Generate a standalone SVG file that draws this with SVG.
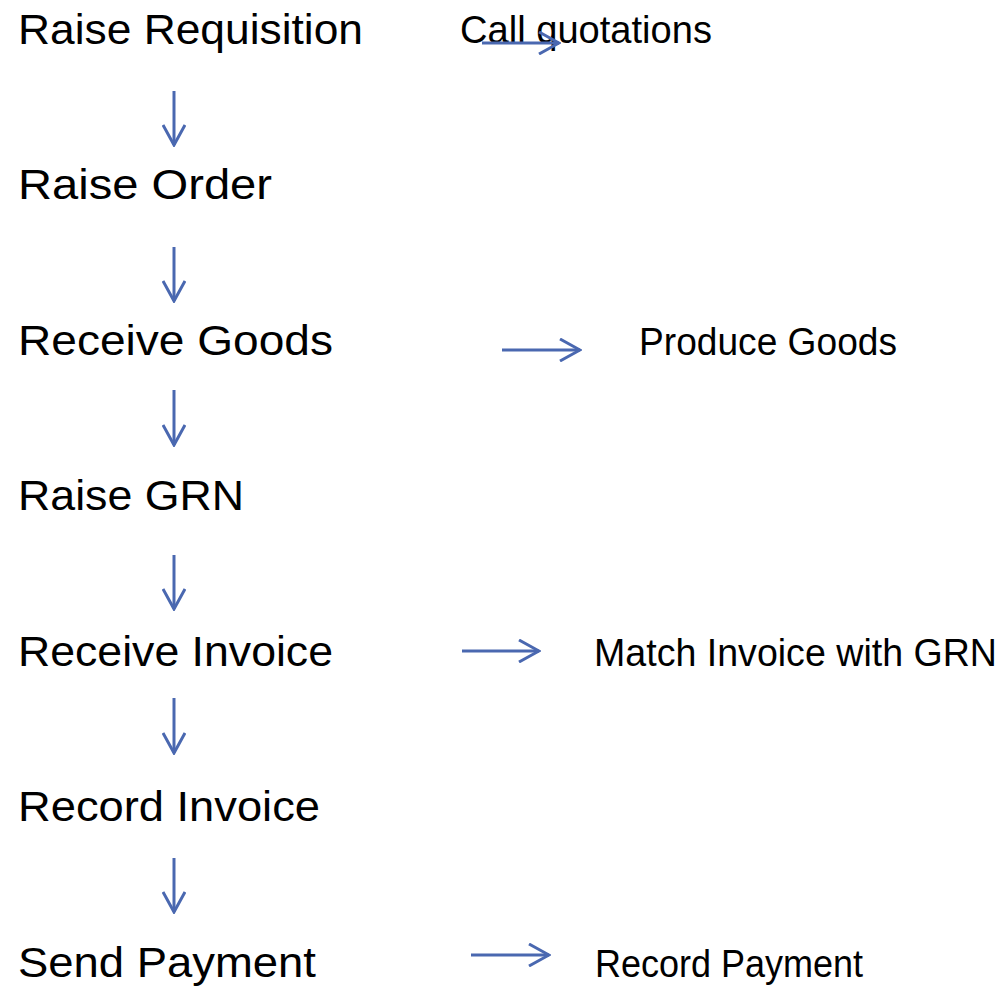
<svg xmlns="http://www.w3.org/2000/svg" width="1007" height="989" viewBox="0 0 1007 989">
<style>
.main{font-family:"Liberation Sans",Arial,sans-serif;font-size:42px;fill:#000}
.side{font-family:"Liberation Sans",Arial,sans-serif;font-size:38px;fill:#000}
.arr{stroke:#4A68B0;stroke-width:3;fill:none}
</style>
<defs>
<marker id="ah" viewBox="0 0 24 24" refX="22" refY="12" markerWidth="24" markerHeight="24" markerUnits="userSpaceOnUse" orient="auto">
<path d="M2,1 L22,12 L2,23" fill="none" stroke="#4A68B0" stroke-width="3"/>
</marker>
</defs>
<rect width="1007" height="989" fill="#fff"/>
<g id="raise-requisition"><text class="main" x="18" y="44" textLength="345" lengthAdjust="spacingAndGlyphs">Raise Requisition</text></g>
<g id="raise-order"><text class="main" x="18" y="199" textLength="254" lengthAdjust="spacingAndGlyphs">Raise Order</text></g>
<g id="receive-goods"><text class="main" x="18" y="355" textLength="315" lengthAdjust="spacingAndGlyphs">Receive Goods</text></g>
<g id="raise-grn"><text class="main" x="18" y="510" textLength="226" lengthAdjust="spacingAndGlyphs">Raise GRN</text></g>
<g id="receive-invoice"><text class="main" x="18" y="666" textLength="315" lengthAdjust="spacingAndGlyphs">Receive Invoice</text></g>
<g id="record-invoice"><text class="main" x="18" y="821" textLength="302" lengthAdjust="spacingAndGlyphs">Record Invoice</text></g>
<g id="send-payment"><text class="main" x="18" y="977" textLength="298" lengthAdjust="spacingAndGlyphs">Send Payment</text></g>
<g id="call-quotations"><text class="side" x="460" y="43" textLength="252" lengthAdjust="spacingAndGlyphs">Call quotations</text></g>
<g id="produce-goods"><text class="side" x="639" y="355" textLength="258" lengthAdjust="spacingAndGlyphs">Produce Goods</text></g>
<g id="match-invoice"><text class="side" x="594" y="666" textLength="403" lengthAdjust="spacingAndGlyphs">Match Invoice with GRN</text></g>
<g id="record-payment"><text class="side" x="595" y="977" textLength="268" lengthAdjust="spacingAndGlyphs">Record Payment</text></g>
<g id="connectors">
<line class="arr" x1="174" y1="91" x2="174" y2="145" marker-end="url(#ah)"/>
<line class="arr" x1="174" y1="247" x2="174" y2="301" marker-end="url(#ah)"/>
<line class="arr" x1="174" y1="390" x2="174" y2="445" marker-end="url(#ah)"/>
<line class="arr" x1="174" y1="555" x2="174" y2="609" marker-end="url(#ah)"/>
<line class="arr" x1="174" y1="698" x2="174" y2="753" marker-end="url(#ah)"/>
<line class="arr" x1="174" y1="858" x2="174" y2="912" marker-end="url(#ah)"/>
<line class="arr" x1="482" y1="43" x2="559" y2="43" marker-end="url(#ah)"/>
<line class="arr" x1="502" y1="350" x2="580" y2="350" marker-end="url(#ah)"/>
<line class="arr" x1="462" y1="651" x2="539" y2="651" marker-end="url(#ah)"/>
<line class="arr" x1="471" y1="955" x2="549" y2="955" marker-end="url(#ah)"/>
</g>
</svg>
